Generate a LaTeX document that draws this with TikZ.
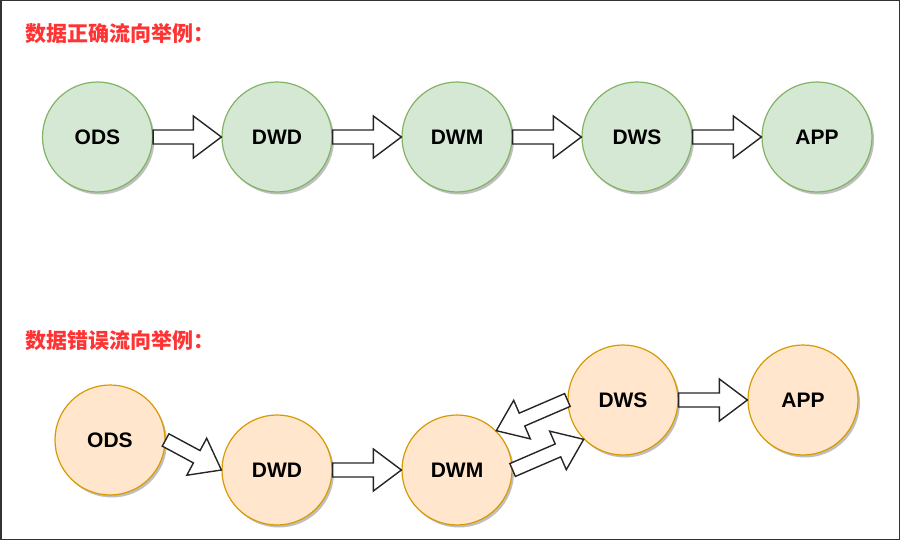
\documentclass[tikz,border=0pt]{standalone}
\usepackage{fontspec}
\setmainfont{Liberation Sans}
\newfontfamily\cjk{Noto Sans CJK SC}
\usetikzlibrary{calc,shadows}
\definecolor{gfill}{HTML}{D5E8D4}
\definecolor{gline}{HTML}{82B366}
\definecolor{ofill}{HTML}{FFE6CC}
\definecolor{oline}{HTML}{D79B00}
\definecolor{titlered}{HTML}{FF3333}
\tikzset{
  layer/.style={circle, minimum size=110pt, inner sep=0pt, line width=1.2pt,
    font=\bfseries\fontsize{21}{25}\selectfont,
    drop shadow={shadow xshift=2pt, shadow yshift=-2.5pt, opacity=0.25, fill=black}},
  goodnode/.style={layer, draw=gline, fill=gfill},
  badnode/.style={layer, draw=oline, fill=ofill},
  blockarr/.style={draw=black!85, fill=white, line width=1.4pt, line join=miter},
  heading/.style={anchor=west, inner sep=0pt, text=titlered,
    font=\cjk\bfseries\fontsize{21}{25}\selectfont}
}
\newcommand\blockarrow[2]{%
  \coordinate (ba-h) at ($(#2)!28pt!(#1)$);
  \draw[blockarr] ($(#1)!7pt!90:(#2)$) -- ($(ba-h)!7pt!-90:(#1)$)
    -- ($(ba-h)!21pt!-90:(#1)$) -- (#2) -- ($(ba-h)!21pt!90:(#1)$)
    -- ($(ba-h)!7pt!90:(#1)$) -- ($(#1)!7pt!-90:(#2)$) -- cycle;
}
\begin{document}
\begin{tikzpicture}[x=1pt,y=-1pt]
\useasboundingbox (0,0) rectangle (900,540);
\draw[line width=1.5pt, black!80] (0.75,0.75) rectangle (899.25,539.25);

\node[heading] (t1) at (25,34) {数据正确流向举例：};
\node[heading] (t2) at (25,341) {数据错误流向举例：};

\node[goodnode] (ods1) at (97.5,137) {ODS};
\node[goodnode] (dwd1) at (277,137) {DWD};
\node[goodnode] (dwm1) at (457,137) {DWM};
\node[goodnode] (dws1) at (637,137) {DWS};
\node[goodnode] (app1) at (817,137) {APP};

\blockarrow{ods1.east}{dwd1.west}
\blockarrow{dwd1.east}{dwm1.west}
\blockarrow{dwm1.east}{dws1.west}
\blockarrow{dws1.east}{app1.west}

\node[badnode] (ods2) at (110,440) {ODS};
\node[badnode] (dwd2) at (277,470) {DWD};
\node[badnode] (dwm2) at (457,470) {DWM};
\node[badnode] (dws2) at (623,400) {DWS};
\node[badnode] (app2) at (803,400) {APP};

\blockarrow{ods2.east}{dwd2.west}
\blockarrow{dwd2.east}{dwm2.west}
\blockarrow{dwm2.east}{dws2.225}
\blockarrow{dws2.west}{dwm2.45}
\blockarrow{dws2.east}{app2.west}
\end{tikzpicture}
\end{document}
